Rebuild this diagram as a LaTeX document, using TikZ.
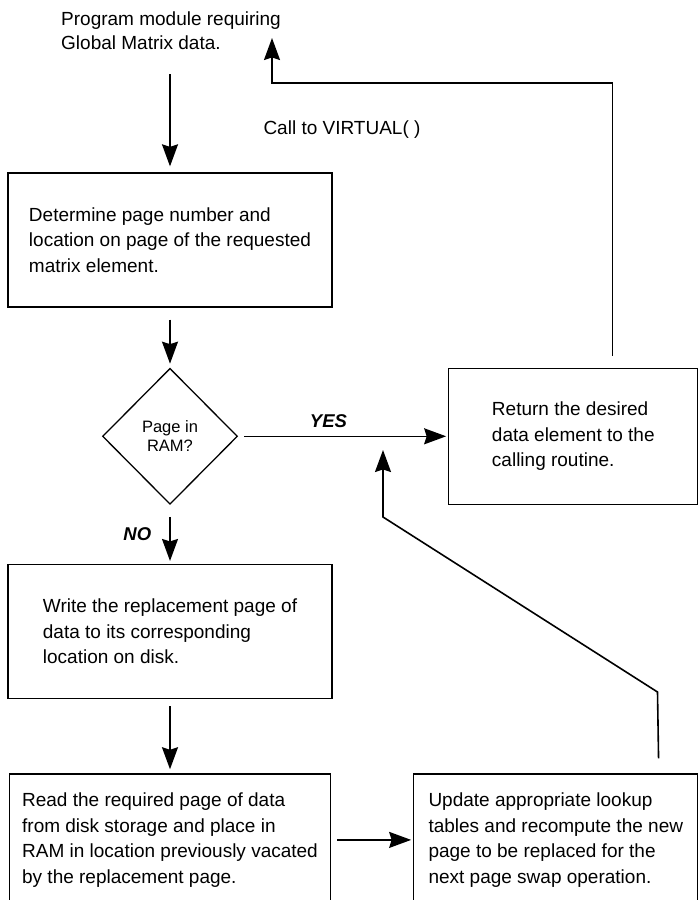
\documentclass[tikz,border=0pt]{standalone}
\usepackage{fontspec}
\setmainfont{Liberation Sans}
\usetikzlibrary{arrows.meta,positioning,shapes.geometric}

\begin{document}
\begin{tikzpicture}[
    x=1pt, y=-1pt,
    node distance=60pt and 210pt,
    block/.style={draw, line width=1.3pt, minimum width=324pt, minimum height=134pt, align=left, font=\fontsize{19pt}{25.5pt}\selectfont},
    decision/.style={draw, diamond, aspect=1, line width=1.3pt, minimum width=135pt, minimum height=136pt, inner sep=0pt, align=center, font=\fontsize{16.5pt}{19pt}\selectfont},
    note/.style={inner sep=0pt, align=left, font=\fontsize{19pt}{24pt}\selectfont},
    answer/.style={inner sep=0pt, font=\fontsize{18.5pt}{22pt}\selectfont\bfseries\itshape},
    arrow/.style={-{Stealth[length=22pt, width=16pt, inset=2.5pt]}, line width=1.6pt},
]
    \useasboundingbox (0,0) rectangle (699,900);

    \node[note, anchor=north west] (prog) at (61,12) {Program module requiring\\Global Matrix data.};
    \node[block] (locate) at (170,240) {Determine page number and\\location on page of the requested\\matrix element.};
    \node[decision, below=of locate] (inram) {Page in\\RAM?};
    \node[block, right=of inram, minimum width=249pt, minimum height=136pt] (ret) {Return the desired\\data element to the\\calling routine.};
    \node[block, below=59pt of inram] (write) {Write the replacement page of\\data to its corresponding\\location on disk.};
    \node[block, below=74pt of write, minimum width=321pt, minimum height=132pt] (read) {Read the required page of data\\from disk storage and place in\\RAM in location previously vacated\\by the replacement page.};
    \node[block, right=82pt of read, minimum width=284pt, minimum height=132pt] (update) {Update appropriate lookup\\tables and recompute the new\\page to be replaced for the\\next page swap operation.};
    \node[note] (vcall) at (342,130) {Call to VIRTUAL( )};

    \coordinate (turn) at (272,83);
    \coordinate (back) at (272,38);
    \coordinate (kneeA) at (657.5,692);
    \coordinate (kneeB) at (383,517);
    \coordinate (reenter) at (383,450);

    \draw[arrow, shorten <=24pt, shorten >=6pt] (prog.south -| locate.north) -- (locate.north);
    \draw[arrow, shorten <=12pt, shorten >=4pt] (locate) -- (inram);
    \draw[arrow, shorten <=6pt, shorten >=2pt] (inram) -- node[answer, above=8pt, pos=0.43] {YES} (ret);
    \draw[arrow, shorten <=12pt, shorten >=3pt] (inram) -- node[answer, left=18pt] {NO} (write);
    \draw[arrow, shorten <=7pt, shorten >=4pt] (write) -- (read);
    \draw[arrow, shorten <=6pt, shorten >=2pt] (read) -- (update);
    \draw[arrow, shorten <=15pt] ([xshift=103pt]update.north) -- (kneeA) -- (kneeB) -- (reenter);
    \draw[arrow, shorten <=12pt] ([xshift=39pt]ret.north) |- (turn) -- (back);
\end{tikzpicture}
\end{document}
